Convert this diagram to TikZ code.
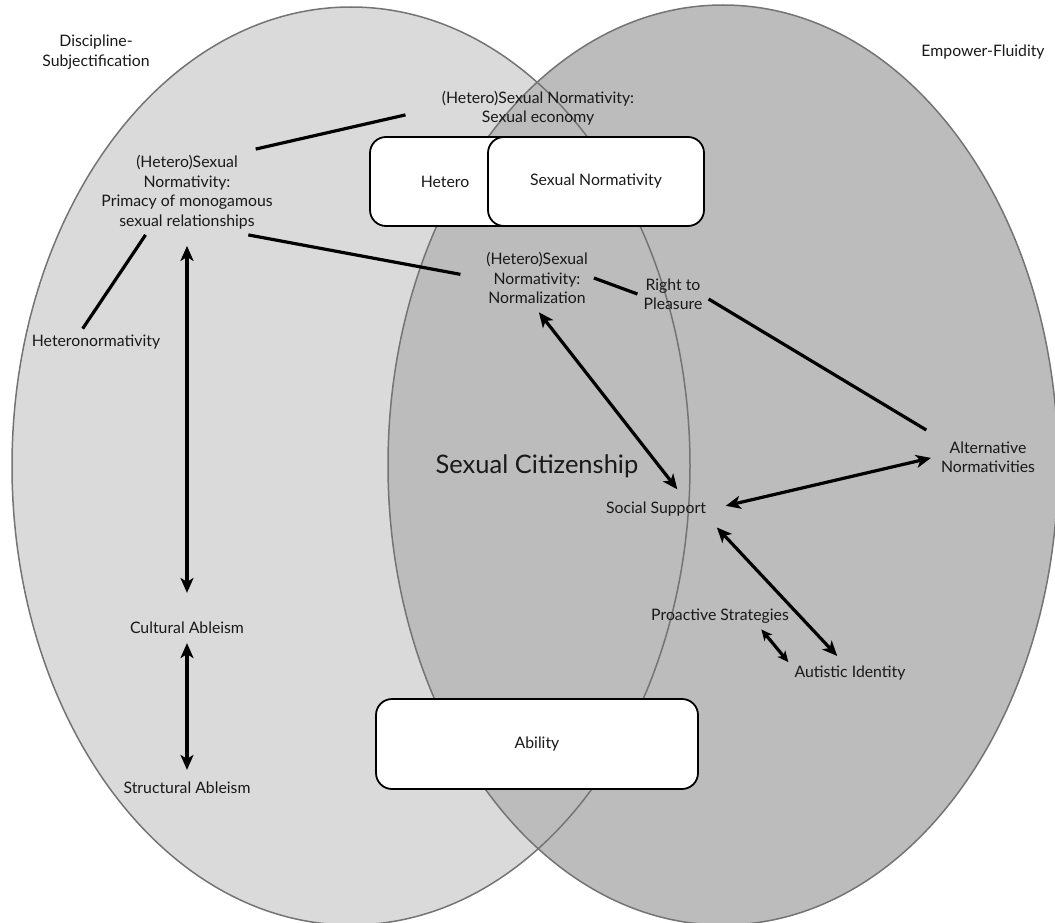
\documentclass[tikz,border=0pt]{standalone}
\usepackage{fontspec}
\setmainfont{Lato}
\usetikzlibrary{arrows.meta}
\definecolor{leftgray}{HTML}{DADADA}
\definecolor{rightgray}{HTML}{BCBCBC}
\definecolor{rimgray}{HTML}{747474}

\begin{document}
\begin{tikzpicture}[x=1pt, y=-1pt, font=\fontsize{15.8}{19.5}\selectfont, >={Stealth[length=15pt,width=13pt,inset=4pt]},
  lbl/.style={align=center, inner sep=6pt, text=black!90},
  tagbox/.style={draw, line width=1.8pt, fill=white, rounded corners=16pt, minimum height=89pt, text=black!90},
  link/.style={line width=3.2pt},
  twoway/.style={link, <->}]
\useasboundingbox (0,0) rectangle (1055,923);
\clip (0,0) rectangle (1055,923);
% the two fields
\fill[leftgray] (351,466) ellipse [x radius=339pt, y radius=459pt];
\fill[rightgray] (723,465) ellipse [x radius=335pt, y radius=460pt];
\draw[rimgray, line width=1.5pt] (351,466) ellipse [x radius=339pt, y radius=459pt];
\draw[rimgray, line width=1.5pt] (723,465) ellipse [x radius=335pt, y radius=460pt];

% boxes
\node[tagbox, minimum width=150pt] (hetbox) at (445,181.5) {Hetero};
\node[tagbox, minimum width=216pt] (snbox) at (596,181.5) {Sexual Normativity};
\node[tagbox, minimum width=322pt, minimum height=90pt] (abilbox) at (537,744) {Ability};

% labels
\node[lbl] (disc) at (96,52) {Discipline-\\Subjectification};
\node[lbl] (empow) at (983,52) {Empower-Fluidity};
\node[lbl] (econ) at (538,108) {(Hetero)Sexual Normativity:\\Sexual economy};
\node[lbl] (prim) at (187,192) {(Hetero)Sexual\\Normativity:\\Primacy of monogamous\\sexual relationships};
\node[lbl] (hetnorm) at (96,342) {Heteronormativity};
\node[lbl] (norm) at (537,278) {(Hetero)Sexual\\Normativity:\\Normalization};
\node[lbl] (pleasure) at (673,294) {Right to\\Pleasure};
\node[lbl] (alt) at (988,457) {Alternative\\Normativities};
\node[lbl, font=\fontsize{25.5}{30}\selectfont] (sexcit) at (537,466) {Sexual Citizenship};
\node[lbl] (social) at (656,509) {Social Support};
\node[lbl] (proact) at (720,616) {Proactive Strategies};
\node[lbl] (autist) at (850,673) {Autistic Identity};
\node[lbl] (cultural) at (187,628) {Cultural Ableism};
\node[lbl] (structural) at (187,788) {Structural Ableism};

% connectors
\draw[link, shorten >=31pt] (prim.32) -- (econ.west);
\draw[link, shorten >=20pt] (prim.-35) -- (norm.west);
\draw[link] (prim.-134) -- (hetnorm.135);
\draw[twoway, shorten <=11pt, shorten >=23pt] (prim.south) -- (cultural.north);
\draw[twoway, shorten <=3pt, shorten >=6pt] (cultural.south) -- (structural.north);
\draw[twoway, shorten <=3pt, shorten >=8pt] (norm.south) -- (social.27);
\draw[link] (norm.east) -- (pleasure.west);
\draw[link, shorten >=10pt] (pleasure.-8) -- (alt.north west);
\draw[twoway, shorten <=14pt, shorten >=4pt] (social.east) -- (alt.west);
\draw[twoway, shorten <=7pt, shorten >=5pt] (social.south east) -- (autist.125);
\draw[twoway, >={Stealth[length=11pt,width=10pt,inset=3pt]}] (proact.-18) -- (autist.170);
\end{tikzpicture}
\end{document}
